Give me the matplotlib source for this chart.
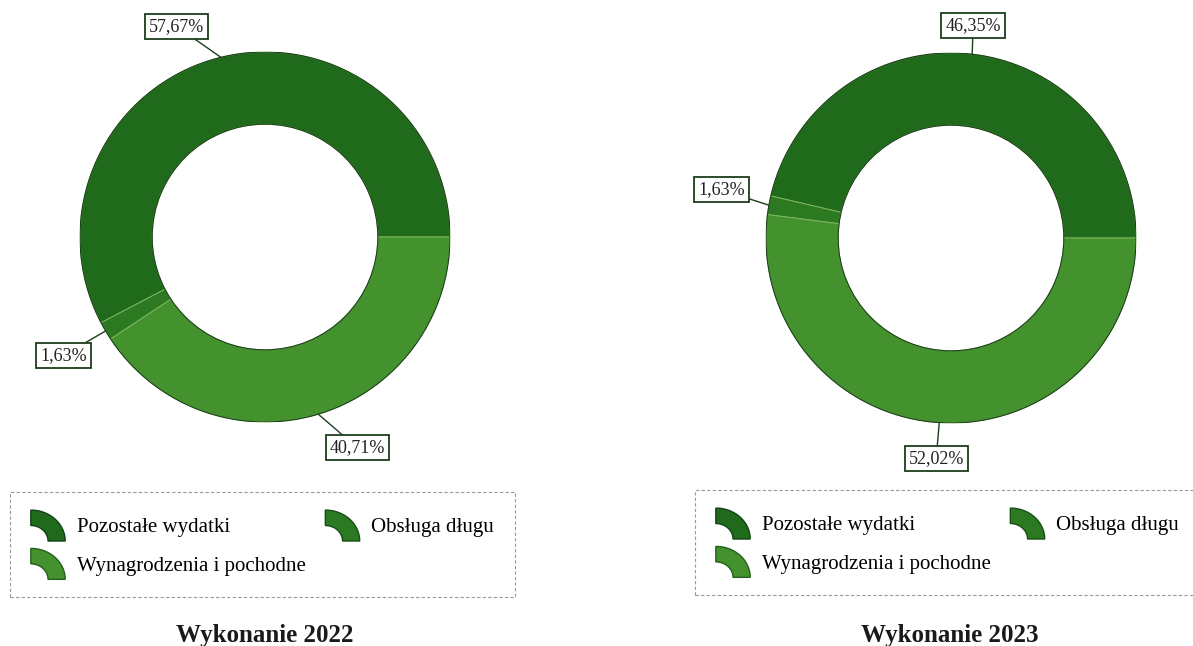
import numpy as np
import matplotlib
matplotlib.use("Agg")
import matplotlib.pyplot as plt
from matplotlib.patches import Wedge, Circle, Polygon
from matplotlib.legend_handler import HandlerBase

plt.rcParams["font.family"] = ["Liberation Serif", "DejaVu Serif"]

# data
categories = ["Pozostałe wydatki", "Obsługa długu", "Wynagrodzenia i pochodne"]
shares_2022 = [57.67, 1.63, 40.71]
shares_2023 = [46.35, 1.63, 52.02]
titles = ["Wykonanie 2022", "Wykonanie 2023"]

colors = ["#1f6b1b", "#2b7a22", "#44922e"]
edge_colors = ["#12421a", "#174f17", "#23601c"]

# label text positions (data units, radius 1 = outer edge)
label_pos_2022 = [(-0.48, 1.14), (-1.09, -0.64), (0.50, -1.14)]
label_pos_2023 = [(0.12, 1.15), (-1.24, 0.26), (-0.08, -1.19)]


class HandlerArc(HandlerBase):
    # quarter of a ring, like the legend icons of the original
    def create_artists(self, legend, orig_handle, xdescent, ydescent,
                       width, height, fontsize, trans):
        h = 0.9 * width
        x0 = -xdescent
        y0 = height / 2 - ydescent - h / 2
        t = np.linspace(0, np.pi / 2, 30)
        outer = np.column_stack([x0 + width * np.cos(t), y0 + h * np.sin(t)])
        inner = np.column_stack([x0 + 0.5 * width * np.cos(t[::-1]),
                                 y0 + 0.5 * h * np.sin(t[::-1])])
        p = Polygon(
            np.vstack([outer, inner]),
            closed=True,
            facecolor=orig_handle.get_facecolor(),
            edgecolor=orig_handle.get_edgecolor(),
            linewidth=1.0,
            transform=trans,
        )
        return [p]


def draw_donut(fig, rect, shares, label_pos, title, title_x, legend_corner):
    ax = fig.add_axes(rect)
    wedges, _ = ax.pie(
        shares,
        colors=colors,
        startangle=0,
        counterclock=True,
        radius=1.0,
        wedgeprops=dict(width=0.39, edgecolor="#7db35c", linewidth=0.7),
    )
    ax.add_patch(Circle((0, 0), 1.0, fill=False, edgecolor="#1a3f1a", linewidth=0.8))
    ax.add_patch(Circle((0, 0), 0.61, fill=False, edgecolor="#1a3f1a", linewidth=0.8))
    ax.set_xlim(-1, 1)
    ax.set_ylim(-1, 1)
    ax.set_aspect("equal")
    ax.axis("off")

    for w, v, pos in zip(wedges, shares, label_pos):
        mid = np.deg2rad((w.theta1 + w.theta2) / 2)
        ax.annotate(
            f"{v:.2f}".replace(".", ",") + "%",
            xy=(np.cos(mid), np.sin(mid)),
            xytext=pos,
            ha="center",
            va="center",
            fontsize=13,
            color="#222222",
            annotation_clip=False,
            bbox=dict(boxstyle="square,pad=0.22", facecolor="white",
                      edgecolor="#1d3d1d", linewidth=1.3),
            arrowprops=dict(arrowstyle="-", color="#1d3d1d", linewidth=1.0,
                            shrinkA=0, shrinkB=0),
        )

    handles = [
        Wedge((0, 0), 1, 0, 90, facecolor=c, edgecolor=e)
        for c, e in zip(colors, edge_colors)
    ]
    order = [0, 2, 1]
    leg = fig.legend(
        [handles[i] for i in order],
        [categories[i] for i in order],
        handler_map={Wedge: HandlerArc()},
        loc="upper left",
        bbox_to_anchor=legend_corner,
        ncol=2,
        fontsize=15,
        handlelength=1.65,
        handleheight=1.5,
        handletextpad=0.55,
        labelspacing=0.62,
        columnspacing=0.95,
        borderpad=1.0,
        borderaxespad=0,
        fancybox=False,
        frameon=True,
        framealpha=1,
    )
    frame = leg.get_frame()
    frame.set_linestyle((0, (3, 2)))
    frame.set_edgecolor("#9a9a9a")
    frame.set_linewidth(0.8)

    fig.text(title_x, 0.016, title, ha="center", va="center",
             fontsize=18, fontweight="bold", color="#1a1a1a")


fig = plt.figure(figsize=(11.93, 6.46), dpi=100)

W, H = 1193.0, 646.0
R = 185.0

draw_donut(
    fig,
    [(265 - R) / W, 1 - (237 + R) / H, 2 * R / W, 2 * R / H],
    shares_2022,
    label_pos_2022,
    titles[0],
    265 / W,
    (10 / W, 1 - 492 / H),
)

draw_donut(
    fig,
    [(951 - R) / W, 1 - (238 + R) / H, 2 * R / W, 2 * R / H],
    shares_2023,
    label_pos_2023,
    titles[1],
    950 / W,
    (695 / W, 1 - 490 / H),
)

fig.savefig("out.png", dpi=100)
